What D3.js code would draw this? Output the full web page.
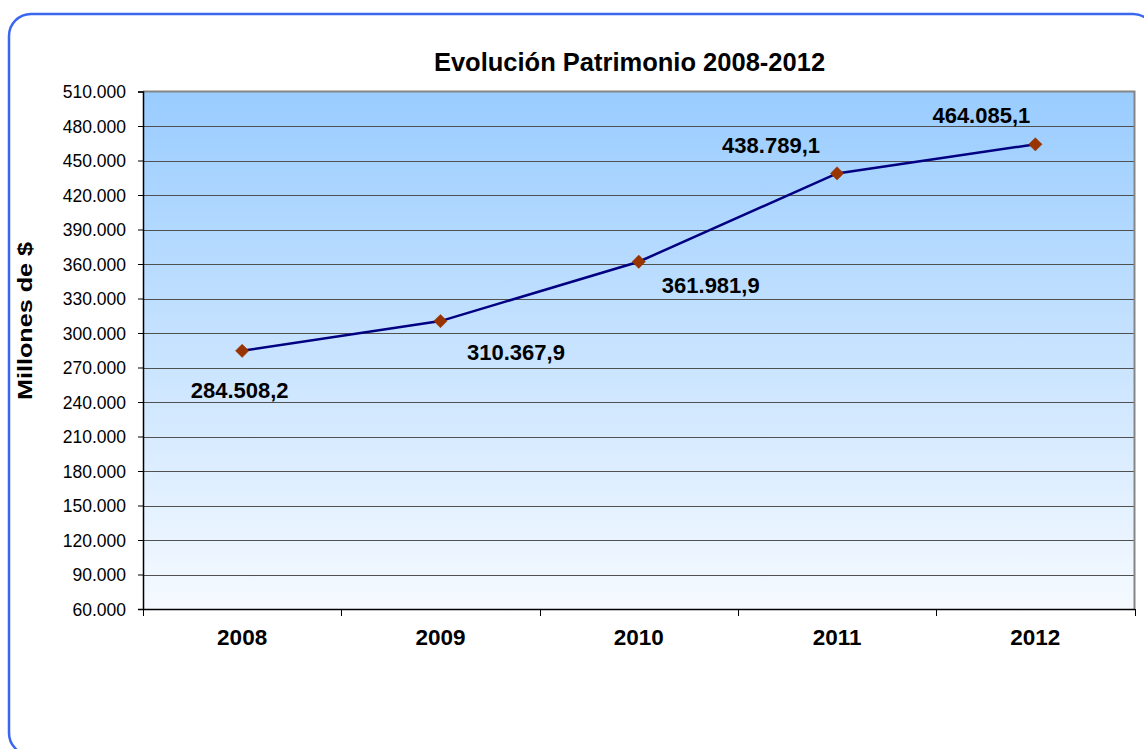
<!DOCTYPE html>
<html>
<head>
<meta charset="utf-8">
<script src="https://cdn.jsdelivr.net/npm/d3@7"></script>
<style>
  html, body { margin: 0; padding: 0; background: #ffffff; }
  svg { display: block; font-family: "Liberation Sans", Arial, sans-serif; }
</style>
</head>
<body>
<svg id="chart" width="1144" height="749"></svg>
<script>
// ---- data ----
const years = ["2008", "2009", "2010", "2011", "2012"];
const patrimonio = [284508.2, 310367.9, 361981.9, 438789.1, 464085.1];
const yTicks = [60000, 90000, 120000, 150000, 180000, 210000, 240000, 270000, 300000, 330000, 360000, 390000, 420000, 450000, 480000, 510000];
const chartTitle = "Evolución Patrimonio 2008-2012";
const yAxisTitle = "Millones de $";

// ---- layout ----
const W = 1144, H = 749;
const plot = { left: 143, right: 1134.5, top: 91.5, bottom: 609 };

const svg = d3.select("#chart");

const defs = svg.append("defs");
const grad = defs.append("linearGradient")
  .attr("id", "bg").attr("x1", 0).attr("y1", 0).attr("x2", 0).attr("y2", 1);
grad.append("stop").attr("offset", "0%").attr("stop-color", "#99CCFF");
grad.append("stop").attr("offset", "100%").attr("stop-color", "#F6FAFF");

// outer rounded frame
svg.append("rect")
  .attr("x", 9).attr("y", 14).attr("width", 1146).attr("height", 741)
  .attr("rx", 22).attr("ry", 22)
  .attr("fill", "#ffffff").attr("stroke", "#3A66F0").attr("stroke-width", 2.5);

const x = d3.scaleBand().domain(years).range([plot.left, plot.right]).padding(0);
const y = d3.scaleLinear().domain([60000, 510000]).range([plot.bottom, plot.top]);

// plot background
svg.append("rect")
  .attr("x", plot.left).attr("y", plot.top)
  .attr("width", plot.right - plot.left).attr("height", plot.bottom - plot.top)
  .attr("fill", "url(#bg)");

// gridlines
svg.append("g").selectAll("line")
  .data(yTicks.slice(1, -1))
  .join("line")
  .attr("x1", plot.left).attr("x2", plot.right)
  .attr("y1", d => Math.round(y(d)) + 0.5).attr("y2", d => Math.round(y(d)) + 0.5)
  .attr("stroke", "#505050").attr("stroke-width", 1);

// top and right plot border (gray)
svg.append("path")
  .attr("d", `M${plot.left},${plot.top} H${plot.right} V${plot.bottom}`)
  .attr("fill", "none").attr("stroke", "#858585").attr("stroke-width", 2);

// y axis
const fmtTick = d => d3.format(",")(d).replace(/,/g, ".");
const yAxis = svg.append("g")
  .attr("transform", `translate(${plot.left},0)`)
  .call(d3.axisLeft(y).tickValues(yTicks).tickFormat(fmtTick).tickSize(5).tickPadding(12));
yAxis.select(".domain").attr("stroke", "#000").attr("stroke-width", 1.5);
yAxis.selectAll(".tick line").attr("stroke", "#000");
yAxis.selectAll("text")
  .attr("font-family", "Liberation Sans, Arial, sans-serif")
  .attr("font-size", "17.5px").attr("fill", "#000").attr("dy", "0.35em");

// x axis: ticks at band boundaries
const xAxis = svg.append("g")
  .attr("transform", `translate(0,${plot.bottom})`)
  .call(d3.axisBottom(x).tickSize(0).tickFormat(""));
xAxis.select(".domain").attr("stroke", "#000").attr("stroke-width", 1.5);
xAxis.selectAll(".tick").remove();
const boundaries = years.map(d => x(d)).concat([plot.right]);
xAxis.selectAll("line.bt").data(boundaries).join("line")
  .attr("class", "bt")
  .attr("x1", d => Math.round(d) + 0.5).attr("x2", d => Math.round(d) + 0.5)
  .attr("y1", 0).attr("y2", 7)
  .attr("stroke", "#000").attr("stroke-width", 1);

// category labels
svg.append("g").selectAll("text")
  .data(years).join("text")
  .attr("x", d => x(d) + x.bandwidth() / 2)
  .attr("y", 645)
  .attr("text-anchor", "middle")
  .attr("font-size", "22.5px").attr("font-weight", "bold").attr("fill", "#000")
  .text(d => d);

// title
svg.append("text")
  .attr("x", 629.5).attr("y", 71)
  .attr("text-anchor", "middle")
  .attr("font-size", "25.5px").attr("font-weight", "bold").attr("fill", "#000")
  .text(chartTitle);

// y axis title
svg.append("text")
  .attr("transform", "translate(32,321) rotate(-90) scale(1.2,1)")
  .attr("text-anchor", "middle")
  .attr("font-size", "21px").attr("font-weight", "bold").attr("fill", "#000")
  .text(yAxisTitle);

// line
const pts = years.map((d, i) => ({ year: d, value: patrimonio[i] }));
const line = d3.line().x(d => x(d.year) + x.bandwidth() / 2).y(d => y(d.value));
svg.append("path")
  .datum(pts)
  .attr("d", line)
  .attr("fill", "none").attr("stroke", "#000080").attr("stroke-width", 2.5);

// markers
svg.append("g").selectAll("path")
  .data(pts).join("path")
  .attr("transform", d => `translate(${x(d.year) + x.bandwidth() / 2},${y(d.value)})`)
  .attr("d", d3.symbol().type(d3.symbolDiamond2).size(113))
  .attr("fill", "#993300").attr("stroke", "#993300").attr("stroke-width", 0.5);

// data labels (manually placed offsets as in original)
const labelOffsets = [[-2.5, 47], [75.5, 39], [72, 31], [-66, -20.5], [-54, -21]];
const fmtVal = v => {
  const parts = v.toFixed(1).split(".");
  return d3.format(",")(+parts[0]).replace(/,/g, ".") + "," + parts[1];
};
svg.append("g").selectAll("text")
  .data(pts).join("text")
  .attr("x", (d, i) => x(d.year) + x.bandwidth() / 2 + labelOffsets[i][0])
  .attr("y", (d, i) => y(d.value) + labelOffsets[i][1])
  .attr("text-anchor", "middle")
  .attr("font-size", "22px").attr("font-weight", "bold").attr("fill", "#000")
  .text(d => fmtVal(d.value));
</script>
</body>
</html>
